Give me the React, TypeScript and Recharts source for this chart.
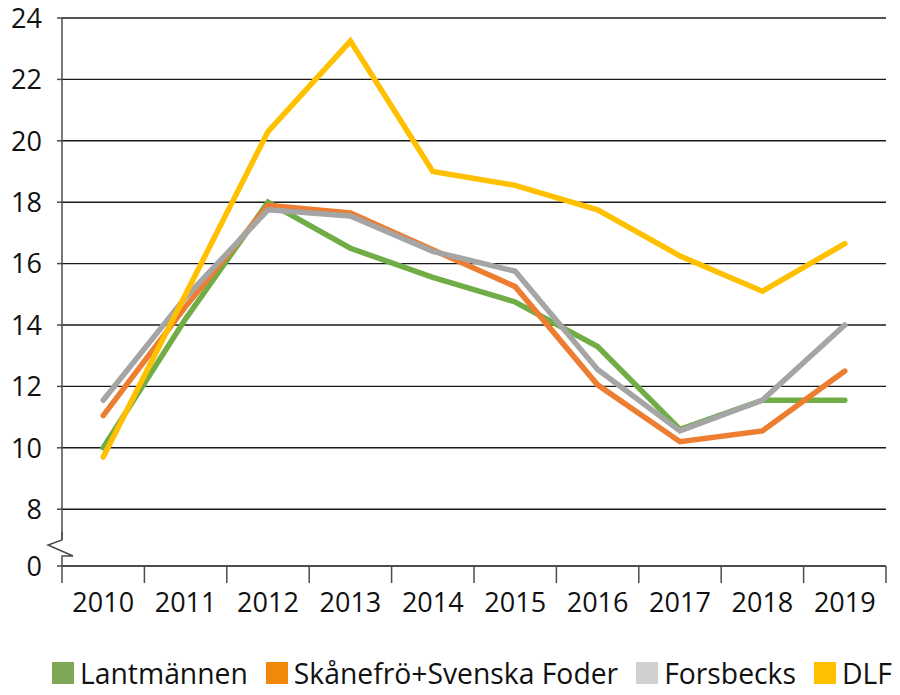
import React from 'react';
import { LineChart, Line, XAxis, YAxis, CartesianGrid, Legend } from 'recharts';

// values
const years = ['2010', '2011', '2012', '2013', '2014', '2015', '2016', '2017', '2018', '2019'];
const lantmannen = [10.0, 14.2, 18.0, 16.5, 15.55, 14.75, 13.3, 10.6, 11.55, 11.55];
const skanefro = [11.05, 14.6, 17.9, 17.65, 16.45, 15.25, 12.05, 10.2, 10.55, 12.5];
const forsbecks = [11.55, 14.9, 17.75, 17.55, 16.4, 15.75, 12.55, 10.55, 11.55, 14.0];
const dlf = [9.7, 15.0, 20.3, 23.25, 19.0, 18.55, 17.75, 16.25, 15.1, 16.65];

// axis is broken between 0 and 8: the bottom of the scale stands for 0
const axisFloor = 6.15;
const yTicks = [axisFloor, 8, 10, 12, 14, 16, 18, 20, 22, 24];

const seriesNames = ['Lantmännen', 'Skånefrö+Svenska Foder', 'Forsbecks', 'DLF'];
const lineColors = ['#70AD47', '#ED7D31', '#A5A5A5', '#FFC000'];
const legendColors = ['#7EA858', '#F0880A', '#D0D0D0', '#FFC000'];
const seriesKeys = ['lantmannen', 'skanefro', 'forsbecks', 'dlf'];

const data = years.map((year, i) => ({
  year,
  lantmannen: lantmannen[i],
  skanefro: skanefro[i],
  forsbecks: forsbecks[i],
  dlf: dlf[i],
}));

const FONT = '"Open Sans", sans-serif';
const AXIS_COLOR = '#4a4a4a';

const XTick = (props: any) => {
  const { x, y, payload, index, width, visibleTicksCount } = props;
  const count = visibleTicksCount || years.length;
  const band = (width || 824) / count;
  const left = x - band / 2;
  const right = x + band / 2;
  return (
    <g>
      <line x1={left} y1={y} x2={left} y2={y + 17} stroke={AXIS_COLOR} strokeWidth={1.5} />
      {index === count - 1 && <line x1={right} y1={y} x2={right} y2={y + 17} stroke={AXIS_COLOR} strokeWidth={1.5} />}
      <text x={x} y={y + 46} textAnchor="middle" fill="#111" fontSize={27} fontFamily={FONT}>
        {payload.value}
      </text>
    </g>
  );
};

const YTick = (props: any) => {
  const { x, y, payload, index } = props;
  const label = payload.value < 8 ? '0' : String(payload.value);
  const ax = x + 20; // tickSize + tickMargin back to the axis line
  return (
    <g>
      <text x={x} y={y} dy="0.36em" textAnchor="end" fill="#111" fontSize={27} fontFamily={FONT}>
        {label}
      </text>
      {index === 0 && (
        <g>
          <rect x={ax - 3} y={y - 27} width={6} height={26} fill="#fff" />
          <polyline
            points={`${ax},${y - 34} ${ax},${y - 26} ${ax - 14},${y - 21} ${ax + 11},${y - 10} ${ax},${y - 10} ${ax},${y}`}
            fill="none"
            stroke={AXIS_COLOR}
            strokeWidth={1.5}
          />
        </g>
      )}
    </g>
  );
};

const LegendBox = () => (
  <div
    style={{
      display: 'flex',
      alignItems: 'center',
      whiteSpace: 'nowrap',
      fontFamily: FONT,
      fontSize: 28.3,
      color: '#111',
      lineHeight: '28px',
    }}
  >
    {seriesNames.map((name, i) => (
      <div key={name} style={{ display: 'flex', alignItems: 'center', flexShrink: 0, marginRight: 18 }}>
        <span style={{ width: 22, height: 22, background: legendColors[i], marginRight: 6, flexShrink: 0 }} />
        <span>{name}</span>
      </div>
    ))}
  </div>
);

export default function App() {
  return (
    <div style={{ position: 'absolute', left: 0, top: 0, width: 900, height: 695, background: '#fff', overflow: 'hidden' }}>
      <LineChart width={900} height={695} data={data} margin={{ top: 18, right: 14, bottom: 95, left: 0 }}>
        <CartesianGrid vertical={false} stroke="#1a1a1a" strokeWidth={1.4} />
        <XAxis
          dataKey="year"
          scale="band"
          interval={0}
          height={34}
          tickSize={0}
          tickMargin={0}
          tickLine={false}
          axisLine={{ stroke: AXIS_COLOR, strokeWidth: 1.5 }}
          tick={<XTick />}
        />
        <YAxis
          type="number"
          width={62}
          domain={[axisFloor, 24]}
          ticks={yTicks}
          interval={0}
          tickSize={5}
          tickMargin={15}
          tickLine={{ stroke: AXIS_COLOR, strokeWidth: 1.5 }}
          axisLine={{ stroke: AXIS_COLOR, strokeWidth: 1.5 }}
          tick={<YTick />}
        />
        <Legend
          verticalAlign="middle"
          content={() => <LegendBox />}
          wrapperStyle={{ top: 659, left: 52, width: 848, height: 28 }}
        />
        {seriesKeys.map((key, i) => (
          <Line
            key={key}
            type="linear"
            dataKey={key}
            name={seriesNames[i]}
            stroke={lineColors[i]}
            strokeWidth={5.5}
            strokeLinecap="round"
            dot={false}
            activeDot={false}
            isAnimationActive={false}
          />
        ))}
      </LineChart>
    </div>
  );
}
